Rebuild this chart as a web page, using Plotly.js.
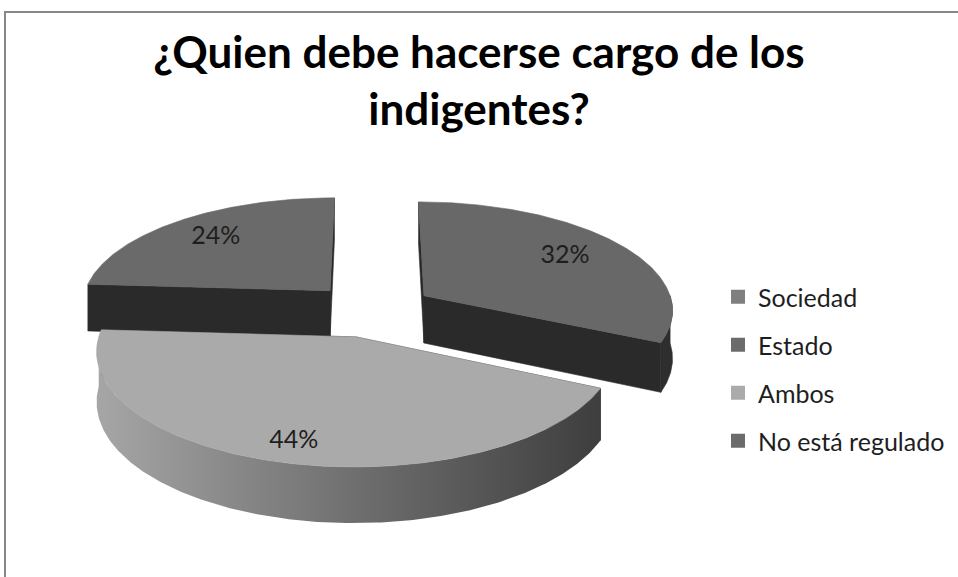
<!DOCTYPE html>
<html>
<head>
<meta charset="utf-8">
<script src="https://cdn.plot.ly/plotly-3.0.1.min.js"></script>
<style>html,body{margin:0;padding:0;background:#fff;}#chart{width:958px;height:577px;}</style>
</head>
<body>
<div id="chart"></div>
<script>
// ---- data ----
const categories = ['Sociedad', 'Estado', 'Ambos', 'No está regulado'];
const values = [32, 0, 44, 24];
const chartTitle = '¿Quien debe hacerse cargo de los<br>indigentes?';

// ---- style ----
const legendColors = ['#7f7f7f', '#6b6b6b', '#ababab', '#6b6b6b'];
const topColors = ['#686868', '#6b6b6b', '#aaaaaa', '#6a6a6a'];
const wallColor = '#2a2a2a';
const labelR = [0.72, 0.6, 0.85, 0.74];
const FONT = 'Lato, "Open Sans", sans-serif';

// projection parameters (pseudo-3D pie drawn in a pixel-like axis space)
const CX = 372, CY = 310, R = 250, RY = 108, P = 0.117, H = 48, D = 0.25;

function proj(X, Z, down) {
  const k = 1 / (1 + P * Z);
  return [CX + R * X * k, CY - RY * Z * k + down * H * k];
}

const total = values.reduce((a, b) => a + b, 0);
let cum = 0;
const slices = values.map((v, i) => {
  const a1 = cum / total * 2 * Math.PI;
  cum += v;
  const a2 = cum / total * 2 * Math.PI;
  const m = (a1 + a2) / 2;
  return {i, v, a1, a2, m, ox: D * Math.sin(m), oz: D * Math.cos(m)};
}).filter(s => s.v > 0);

function pt(s, th, r, down) {
  return proj(s.ox + r * Math.sin(th), s.oz + r * Math.cos(th), down);
}
function poly(points, color, extra) {
  const t = {
    type: 'scatter', mode: 'lines', fill: 'toself',
    x: points.map(p => p[0]), y: points.map(p => p[1]),
    fillcolor: color, line: {color: color, width: 0.6},
    hoverinfo: 'skip', showlegend: false
  };
  return Object.assign(t, extra || {});
}
function arc(s, t1, t2, down) {
  const n = Math.max(2, Math.ceil(Math.abs(t2 - t1) / 0.01));
  const out = [];
  for (let j = 0; j <= n; j++) out.push(pt(s, t1 + (t2 - t1) * j / n, 1, down));
  return out;
}

const traces = [];
// back slices first
slices.sort((a, b) => Math.cos(b.m) - Math.cos(a.m));
slices.forEach(s => {
  const walls = [s.a1, s.a2].map(a => ({a, z: s.oz + 0.5 * Math.cos(a)}));
  walls.sort((u, w) => w.z - u.z);
  walls.forEach(w => {
    traces.push(poly([pt(s, w.a, 0, 0), pt(s, w.a, 1, 0), pt(s, w.a, 1, 1), pt(s, w.a, 0, 1), pt(s, w.a, 0, 0)], wallColor));
  });
  const t1 = Math.max(s.a1, Math.PI / 2), t2 = Math.min(s.a2, 3 * Math.PI / 2);
  if (t2 > t1) {
    const pts = arc(s, t1, t2, 0).concat(arc(s, t2, t1, 1));
    pts.push(pts[0]);
    if (s.i === 2) {
      traces.push(poly(pts, '#6e6e6e', {
        fillgradient: {type: 'horizontal', colorscale: [[0, '#a6a6a6'], [0.5, '#707070'], [1, '#3e3e3e']]},
        line: {color: 'rgba(0,0,0,0)', width: 0}
      }));
    } else {
      traces.push(poly(pts, '#2e2e2e'));
    }
  }
  const top = [pt(s, 0, 0, 0)].concat(arc(s, s.a1, s.a2, 0));
  top.push(top[0]);
  traces.push(poly(top, topColors[s.i]));
});

// percentage labels
const lab = slices.map(s => pt(s, s.m, labelR[s.i], 0));
traces.push({
  type: 'scatter', mode: 'text',
  x: lab.map(p => p[0]), y: lab.map(p => p[1]),
  text: slices.map(s => Math.round(s.v / total * 100) + '%'),
  textfont: {family: FONT, size: 25, color: '#1e1e1e'},
  hoverinfo: 'skip', showlegend: false
});

// legend entries
categories.forEach((c, i) => {
  traces.push({
    type: 'scatter', mode: 'markers', x: [null], y: [null], name: c,
    legendgroup: 'g' + i,
    marker: {symbol: 'square', size: 14, color: legendColors[i], line: {width: 0}},
    showlegend: true, hoverinfo: 'skip'
  });
});

const layout = {
  width: 958, height: 577,
  margin: {l: 0, r: 0, t: 0, b: 0},
  paper_bgcolor: '#ffffff', plot_bgcolor: '#ffffff',
  showlegend: true, hovermode: false,
  title: {
    text: chartTitle,
    font: {family: FONT, size: 44, color: '#000000', weight: 'bold'},
    x: 0.5, xanchor: 'center', y: 1 - 68 / 577, yanchor: 'top', yref: 'container'
  },
  xaxis: {range: [0, 958], domain: [0, 1], visible: false, fixedrange: true},
  yaxis: {range: [577, 0], domain: [0, 1], visible: false, fixedrange: true},
  legend: {
    x: 718 / 958, y: 1 - 274 / 577, xanchor: 'left', yanchor: 'top',
    font: {family: FONT, size: 25, color: '#1e1e1e'},
    tracegroupgap: 12.5, bgcolor: 'rgba(0,0,0,0)', itemclick: false, itemdoubleclick: false
  },
  shapes: [{
    type: 'rect', xref: 'paper', yref: 'paper',
    x0: 5 / 958, x1: 1.02, y0: -0.02, y1: 1 - 12 / 577,
    line: {color: '#878787', width: 2}
  }]
};

Plotly.newPlot('chart', traces, layout, {displayModeBar: false, staticPlot: true});
</script>
</body>
</html>
